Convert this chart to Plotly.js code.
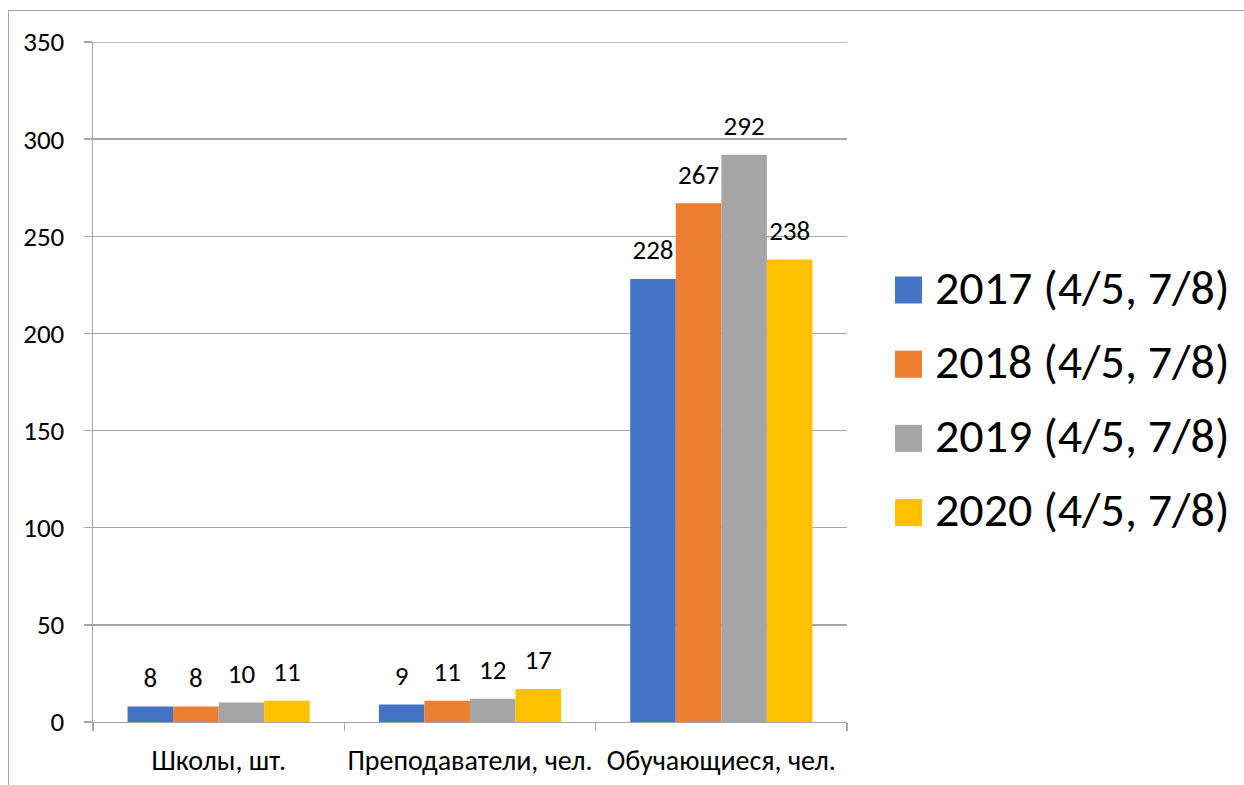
<!DOCTYPE html>
<html>
<head>
<meta charset="utf-8">
<script src="https://cdn.plot.ly/plotly-3.0.1.min.js"></script>
<style>
  html, body { margin: 0; padding: 0; background: #fff; }
  #wrap { position: relative; width: 1244px; height: 785px; overflow: hidden; }
  #chart { position: absolute; left: 0; top: 0; width: 1244px; height: 785px; }
  #frame { position: absolute; left: 8px; top: 10px; width: 1400px; height: 900px;
           border-left: 1.5px solid #a6a6a6; border-top: 1.5px solid #a6a6a6; pointer-events: none; }
</style>
</head>
<body>
<div id="wrap">
  <div id="chart"></div>
  <div id="frame"></div>
</div>
<script>
const categories = ['Школы, шт.', 'Преподаватели, чел.', 'Обучающиеся, чел.'];
const seriesNames = ['2017 (4/5, 7/8)', '2018 (4/5, 7/8)', '2019 (4/5, 7/8)', '2020 (4/5, 7/8)'];
const values2017 = [8, 9, 228];
const values2018 = [8, 11, 267];
const values2019 = [10, 12, 292];
const values2020 = [11, 17, 238];
const yTicks = [0, 50, 100, 150, 200, 250, 300, 350];

const seriesValues = [values2017, values2018, values2019, values2020];
const colors = ['#4472C4', '#ED7D31', '#A5A5A5', '#FFC000'];
const FONT = 'Carlito, "Liberation Sans", Arial, sans-serif';

const traces = [];
seriesValues.forEach((vals, i) => {
  traces.push({
    type: 'bar', x: categories, y: vals, name: seriesNames[i],
    marker: { color: colors[i], line: { width: 0 } },
    showlegend: false, hoverinfo: 'skip'
  });
});
seriesValues.forEach((vals, i) => {
  traces.push({
    type: 'scatter', mode: 'markers+text', x: categories, y: vals,
    text: vals.map(String), textposition: 'top center',
    textfont: { family: FONT, size: 27, color: '#000' },
    marker: { size: 19, opacity: 0, color: colors[i] },
    showlegend: false, hoverinfo: 'skip', cliponaxis: false
  });
});

// custom legend (large squares)
const L = 93, R = 847, T = 42, B = 722;
const px2x = p => (p - L) / (R - L);
const py2y = p => (B - p) / (B - T);
const shapes = [
  { type: 'line', xref: 'paper', yref: 'y', x0: 0, x1: 1, y0: yTicks[yTicks.length - 1], y1: yTicks[yTicks.length - 1],
    line: { color: '#a6a6a6', width: 1.3 } }
];
const annotations = [];
seriesNames.forEach((n, i) => {
  const cy = 290 + i * 74.2;
  shapes.push({ type: 'rect', xref: 'paper', yref: 'paper',
    x0: px2x(895), x1: px2x(922), y0: py2y(cy + 13.5), y1: py2y(cy - 13.5),
    fillcolor: colors[i], line: { width: 0 } });
  annotations.push({ xref: 'paper', yref: 'paper', x: px2x(933), y: py2y(cy - 3),
    xanchor: 'left', yanchor: 'middle', showarrow: false, text: n,
    font: { family: FONT, size: 48, color: '#000' } });
});

const layout = {
  width: 1244, height: 785,
  margin: { l: L, r: 1244 - R, t: T, b: 785 - B, pad: 0 },
  paper_bgcolor: '#fff', plot_bgcolor: '#fff',
  barmode: 'group', bargap: 0.275, bargroupgap: 0,
  scattermode: 'group', scattergap: 0.275,
  showlegend: false,
  font: { family: FONT, color: '#000' },
  xaxis: {
    type: 'category', tickson: 'boundaries', ticks: 'outside', ticklen: 8,
    tickcolor: '#a6a6a6', tickwidth: 1.3, tickangle: 0,
    showline: true, linecolor: '#a6a6a6', linewidth: 1.3,
    showgrid: false, zeroline: false,
    tickfont: { family: FONT, size: 28, color: '#000' },
    ticklabelstandoff: 13
  },
  yaxis: {
    range: [0, 350], tickvals: yTicks, ticktext: yTicks.map(String),
    ticks: 'outside', ticklen: 8, tickcolor: '#a6a6a6', tickwidth: 1.3,
    showgrid: true, gridcolor: '#a6a6a6', gridwidth: 1.3,
    showline: true, linecolor: '#a6a6a6', linewidth: 1.3,
    zeroline: false,
    tickfont: { family: FONT, size: 27, color: '#000' },
    ticklabelstandoff: 14
  },
  shapes: shapes, annotations: annotations
};

Plotly.newPlot('chart', traces, layout, { staticPlot: true, displayModeBar: false });
</script>
</body>
</html>
